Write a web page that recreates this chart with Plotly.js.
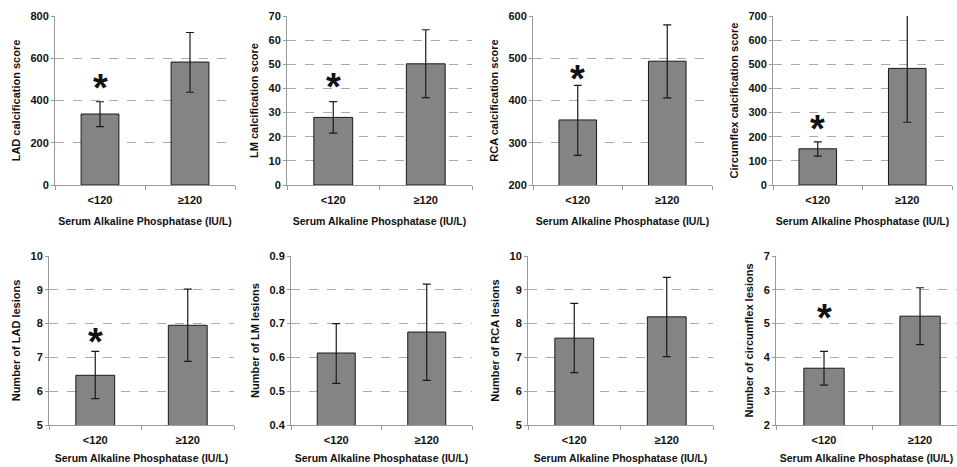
<!DOCTYPE html>
<html>
<head>
<meta charset="utf-8">
<script src="https://cdn.plot.ly/plotly-3.0.1.min.js"></script>
<style>html,body{margin:0;padding:0;background:#fff;}#chart{width:957px;height:467px;}</style>
</head>
<body>
<div id="chart"></div>
<script>
// ---- data ----
const categories = ["<120", "≥120"];
const panelTitles = [
  "LAD calcification score", "LM calcification score", "RCA calcification score", "Circumflex calcification score",
  "Number of LAD lesions", "Number of LM lesions", "Number of RCA lesions", "Number of circumflex lesions"
];
const xTitle = "Serum Alkaline Phosphatase (IU/L)";
const means    = [[336, 582], [28, 50.2], [354, 493], [150, 483], [6.47, 7.95], [0.613, 0.675], [7.57, 8.2], [3.68, 5.22]];
const errUpper = [[394, 722], [34.5, 64.3], [436, 579], [179, 704], [7.18, 9.02], [0.70, 0.817], [8.6, 9.37], [4.18, 6.06]];
const errLower = [[276, 439], [21.5, 36.2], [270, 406], [120, 260], [5.78, 6.88], [0.523, 0.532], [6.55, 7.02], [3.18, 4.38]];
const yRanges  = [[0, 800], [0, 70], [200, 600], [0, 700], [5, 10], [0.4, 0.9], [5, 10], [2, 7]];
const yDtick   = [200, 10, 100, 100, 1, 0.1, 1, 1];
const significant = [true, true, true, true, true, false, false, true];
const starY    = [488, 43, 466, 257, 7.63, null, null, 5.33];

// ---- layout geometry (pixels) ----
const W = 957, H = 467;
const xPix = [[55, 235], [287, 472], [533, 712], [773, 952], [49, 234], [291, 472], [528, 713], [776, 957]];
const xRangeEnd = [1.5, 1.5, 1.5, 1.5, 1.5, 1.5, 1.5, 1.385];
const rowPix = [[16, 185], [256, 425]];

const font = {family: "Liberation Sans, Arial, sans-serif", color: "#111"};
const traces = [];
const layout = {
  width: W, height: H, margin: {l: 0, r: 0, t: 0, b: 0},
  paper_bgcolor: "#fff", plot_bgcolor: "#fff", showlegend: false,
  annotations: [], font: font
};

for (let i = 0; i < 8; i++) {
  const k = i + 1;
  const xa = "x" + (k === 1 ? "" : k), ya = "y" + (k === 1 ? "" : k);
  const row = i < 4 ? 0 : 1;
  traces.push({
    type: "bar", x: [0, 1], y: means[i], xaxis: xa, yaxis: ya, width: 0.42,
    marker: {color: "#848484", line: {color: "#1a1a1a", width: 1}},
    error_y: {type: "data", symmetric: false,
      array: errUpper[i].map((u, j) => u - means[i][j]),
      arrayminus: errLower[i].map((l, j) => means[i][j] - l),
      color: "#1a1a1a", thickness: 1.2, width: 4},
    hoverinfo: "none"
  });
  const xName = "xaxis" + (k === 1 ? "" : k), yName = "yaxis" + (k === 1 ? "" : k);
  layout[xName] = {
    domain: [xPix[i][0] / W, xPix[i][1] / W], anchor: ya,
    range: [-0.5, xRangeEnd[i]], tickvals: [0, 1], ticktext: categories,
    showgrid: false, zeroline: false, showline: true, linecolor: "#999", linewidth: 1,
    ticks: "", ticklabelstandoff: 5,
    tickfont: {family: font.family, size: 11, weight: "bold", color: "#111"},
    title: {text: xTitle, font: {family: font.family, size: 10.5, weight: "bold", color: "#111"}, standoff: row === 0 ? 12 : 9},
    fixedrange: true,
    minor: {tickvals: [-0.5, 0.5, 1.5], ticks: "outside", ticklen: 4, tickcolor: "#999"}
  };
  layout[yName] = {
    domain: [(H - rowPix[row][1]) / H, (H - rowPix[row][0]) / H], anchor: xa,
    range: yRanges[i], dtick: yDtick[i], tick0: yRanges[i][0],
    tickformat: yDtick[i] < 1 ? ".1f" : "d",
    showgrid: true, gridcolor: "#aaa", griddash: "dash", gridwidth: 1,
    zeroline: false, showline: true, linecolor: "#999", linewidth: 1,
    ticks: "outside", ticklen: 3, tickcolor: "#999",
    tickfont: {family: font.family, size: 11, weight: "bold", color: "#111"},
    title: {text: panelTitles[i], font: {family: font.family, size: 11, weight: "bold", color: "#111"}, standoff: 7},
    fixedrange: true
  };
  if (significant[i]) {
    layout.annotations.push({
      xref: xa, yref: ya, x: 0, y: starY[i], text: "*", showarrow: false,
      yanchor: "middle", yshift: -6, font: {family: font.family, size: 38, weight: "bold", color: "#111"}
    });
  }
}

Plotly.newPlot("chart", traces, layout, {staticPlot: true});
</script>
</body>
</html>
